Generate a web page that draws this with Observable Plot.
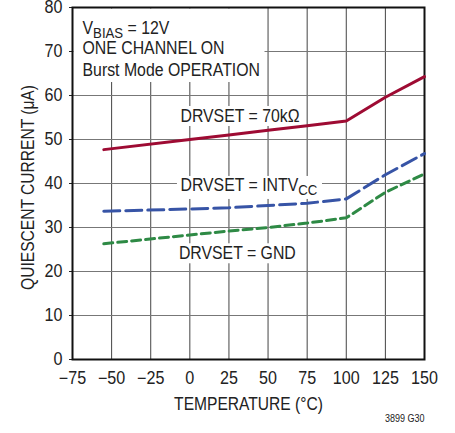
<!DOCTYPE html>
<html><head><meta charset="utf-8">
<script src="https://cdn.jsdelivr.net/npm/d3@7"></script>
<script src="https://cdn.jsdelivr.net/npm/@observablehq/plot@0.6"></script>
<style>
body{margin:0;background:#fff;}
</style></head><body><div id="chart"></div>
<script>
// ---- data ----
const temps = [-55, 0, 25, 50, 75, 100, 125, 150];
const current70k = [47.7, 50.0, 51.0, 52.1, 53.1, 54.2, 59.6, 64.3];
const currentIntvcc = [33.7, 34.2, 34.5, 35.0, 35.5, 36.5, 42.0, 46.8];
const currentGnd = [26.3, 28.3, 29.2, 30.0, 31.0, 32.2, 38.0, 42.2];
const xTicks = [-75, -50, -25, 0, 25, 50, 75, 100, 125, 150];
const yTicks = [0, 10, 20, 30, 40, 50, 60, 70, 80];
const seriesLabels = ["DRVSET = 70kΩ", "DRVSET = INTV_{CC}", "DRVSET = GND"];
const seriesLabelX = [-6, -6, -7];
const seriesLabelY = [55.4, 39.5, 24.2];
const headerLines = ["V_{BIAS} = 12V", "ONE CHANNEL ON", "Burst Mode OPERATION"];
const headerX = [-68.6, -68.6, -68.6];
const headerY = [75.4, 70.85, 65.85];
const caption = "3899 G30";

const FONT = '"Liberation Sans", Arial, sans-serif';
const FS = 18;

const rows = (vals) => temps.map((t, i) => ({t, v: vals[i]}));
const labelRows = seriesLabels.map((s, i) => ({s, x: seriesLabelX[i], y: seriesLabelY[i]}));
const headerRows = headerLines.map((s, i) => ({s, x: headerX[i], y: headerY[i]}));

const svg = Plot.plot({
  width: 455, height: 433,
  marginLeft: 72, marginRight: 31, marginTop: 7, marginBottom: 74,
  style: {fontSize: "17.5px", background: "white", color: "#222", fontFamily: FONT, overflow: "visible"},
  x: {domain: [-75, 150], ticks: xTicks, tickSize: 0, tickPadding: 12, label: "TEMPERATURE (°C)", labelAnchor: "center", labelArrow: "none", labelOffset: 50},
  y: {domain: [0, 80], ticks: yTicks, tickSize: 3, tickPadding: 7, label: "QUIESCENT CURRENT (μA)", labelAnchor: "center", labelArrow: "none", labelOffset: 52},
  marks: [
    Plot.gridX(xTicks.slice(1, -1), {stroke: "#444", strokeOpacity: 1, strokeWidth: 1}),
    Plot.gridY(yTicks.slice(1, -1), {stroke: "#777", strokeOpacity: 1, strokeWidth: 1}),
    Plot.text(headerRows, {x: "x", y: "y", text: "s", textAnchor: "start", fill: "#222", fontSize: FS, className: "hdr"}),
    Plot.text(labelRows, {x: "x", y: "y", text: "s", textAnchor: "start", fill: "#222", fontSize: FS, className: "lbl"}),
    Plot.frame({stroke: "#111", strokeWidth: 2}),
    Plot.line(rows(current70k), {x: "t", y: "v", stroke: "#9e0b33", strokeWidth: 3}),
    Plot.line(rows(currentIntvcc), {x: "t", y: "v", stroke: "#3754a6", strokeWidth: 3, strokeDasharray: "16,6"}),
    Plot.line(rows(currentGnd), {x: "t", y: "v", stroke: "#2e8a45", strokeWidth: 3, strokeDasharray: "9,5"}),
    Plot.text([caption], {frameAnchor: "bottom-right", dy: 62.5, textAnchor: "end", fontSize: 11, fill: "#222", className: "cap"})
  ]
});
document.getElementById("chart").appendChild(svg);

const ns = "http://www.w3.org/2000/svg";
// subscripts
svg.querySelectorAll("text").forEach(t => {
  const m = /^(.*)_\{(.*?)\}(.*)$/.exec(t.textContent);
  if (!m) return;
  while (t.firstChild) t.removeChild(t.firstChild);
  const a = document.createElementNS(ns, "tspan"); a.textContent = m[1];
  const b = document.createElementNS(ns, "tspan"); b.textContent = m[2]; b.setAttribute("dy", "4"); b.setAttribute("font-size", String(FS - 3));
  const c = document.createElementNS(ns, "tspan"); c.textContent = m[3]; c.setAttribute("dy", "-4");
  t.append(a, b, c);
});

// condensed look: axis labels larger, all text horizontally compressed
svg.querySelectorAll("text").forEach(t => {
  const g = t.closest("g");
  const role = (g && g.getAttribute("aria-label")) || "";
  let f = 0.88;
  if (/axis label/.test(role)) { t.setAttribute("font-size", "19"); f = 0.82; }
  else if (/tick label/.test(role)) f = 0.92;
  else if (g && g.classList.contains("cap")) f = 0.82;
  const L = t.getComputedTextLength();
  if (L > 0) { t.setAttribute("textLength", (L * f).toFixed(1)); t.setAttribute("lengthAdjust", "spacingAndGlyphs"); }
  if (role === "y-axis label") t.setAttribute("dx", "-4");
});

// white boxes behind annotation text (client coordinates -> svg coordinates)
const sr = svg.getBoundingClientRect();
function rectOf(t) { const r = t.getBoundingClientRect(); return {x: r.left - sr.left, y: r.top - sr.top, width: r.width, height: r.height}; }
function box(g, x, y, w, h) {
  const r = document.createElementNS(ns, "rect");
  r.setAttribute("x", x); r.setAttribute("y", y); r.setAttribute("width", w); r.setAttribute("height", h);
  r.setAttribute("fill", "white");
  g.insertBefore(r, g.firstChild);
}
const hdr = svg.querySelector("g.hdr");
if (hdr) {
  const ts = [...hdr.querySelectorAll("text")].map(rectOf);
  const x1 = d3.max(ts, b => b.x + b.width) + 4, y1 = d3.max(ts, b => b.y + b.height) + 2;
  box(hdr, 73, 8, x1 - 73, y1 - 8);
}
const lbl = svg.querySelector("g.lbl");
if (lbl) lbl.querySelectorAll("text").forEach(t => { const b = rectOf(t); box(lbl, b.x - 4, b.y, b.width + 8, b.height); });
</script></body></html>
